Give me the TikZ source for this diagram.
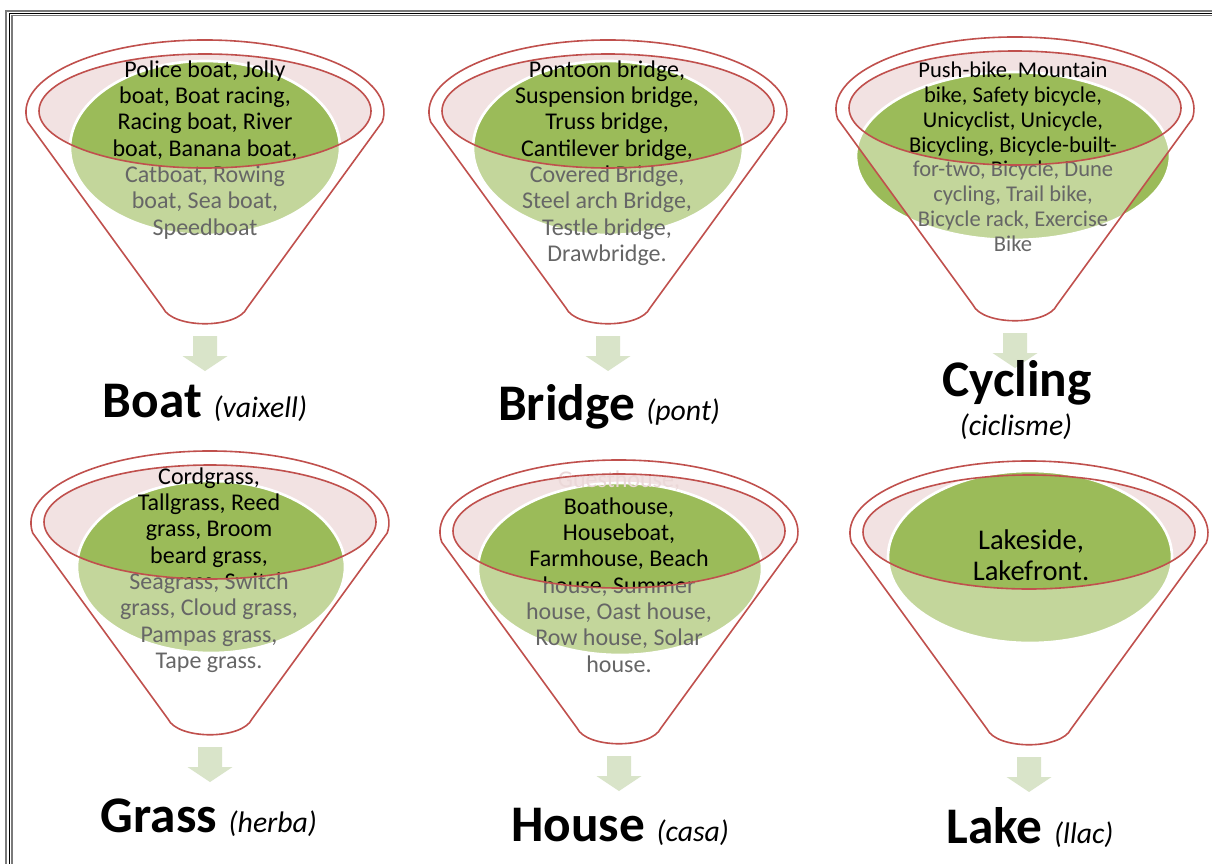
\documentclass[tikz,border=0pt]{standalone}
\usepackage{fontspec}
\setmainfont{Carlito}
\definecolor{fred}{HTML}{C0504D}
\definecolor{fpink}{HTML}{F2E2E2}
\definecolor{fgreen}{HTML}{9BBB59}
\definecolor{farrow}{HTML}{D9E4C9}
\definecolor{ghost}{HTML}{EBD8D8}
\definecolor{framegray}{HTML}{7A7A7A}
\newcommand{\lbltitle}{\fontsize{38.5}{46}\selectfont\bfseries}
\newcommand{\lbltrans}{\fontsize{22.3}{27}\selectfont\itshape}
% #1 cx, #2 cy, #3 green cx, #4 green cy, #5 green rx, #6 green ry
\newcommand{\funnelback}[6]{%
  \fill[white] (#1-177.3,#2+10) arc[start angle=172,end angle=368,x radius=179,y radius=72] -- (#1+42,#2+196) .. controls (#1+32,#2+217) and (#1-32,#2+217) .. (#1-42,#2+196) -- cycle;
  \fill[fpink] (#1,#2-1) ellipse [x radius=166, y radius=57];
  \filldraw[fill=fgreen, draw=white, line width=2pt] (#3,#4) ellipse [x radius=#5, y radius=#6];
}
\newcommand{\funnelfront}[2]{%
  \begin{scope}
    \clip (#1-400,#2-1) -- (#1-166,#2-1) arc[start angle=180,end angle=0,x radius=166,y radius=57] -- (#1+400,#2-1) -- (#1+400,#2+300) -- (#1-400,#2+300) -- cycle;
    \fill[white, fill opacity=0.4] (#1-177.3,#2+10) arc[start angle=172,end angle=368,x radius=179,y radius=72] -- (#1+42,#2+196) .. controls (#1+32,#2+217) and (#1-32,#2+217) .. (#1-42,#2+196) -- cycle;
  \end{scope}
  \draw[fred, line width=1.2pt, line join=round] (#1-177.3,#2+10) arc[start angle=172,end angle=368,x radius=179,y radius=72] -- (#1+42,#2+196) .. controls (#1+32,#2+217) and (#1-32,#2+217) .. (#1-42,#2+196) -- cycle;
  \draw[fred, line width=1.2pt] (#1,#2-1) ellipse [x radius=166, y radius=57];
  \fill[farrow] (#1-12,#2+224) -- (#1+12,#2+224) -- (#1+12,#2+244) -- (#1+22.5,#2+244) -- (#1,#2+259) -- (#1-22.5,#2+244) -- (#1-12,#2+244) -- cycle;
}
\begin{document}
\begin{tikzpicture}[x=0.75pt,y=-0.75pt,
  itemtext/.style={align=center, inner sep=0pt, anchor=north, text=black, font=\fontsize{18}{19.75}\selectfont},
  itemsmall/.style={itemtext, font=\fontsize{16.9}{18.7}\selectfont},
  itemlarge/.style={itemtext, font=\fontsize{21.4}{23.25}\selectfont},
  lbl/.style={anchor=base, inner sep=0pt, text=black}]
\useasboundingbox (0,0) rectangle (1212,863);
\clip (0,0) rectangle (1212,863);
\fill[white] (0,0) rectangle (1212,863);
% frame
\draw[framegray, line width=1.9pt] (6,11) rectangle (1240,890);
\draw[black, line width=1pt] (9.3,13.3) rectangle (1240,890);
\draw[framegray, line width=1.1pt] (12,15.6) rectangle (1240,890);

% Boat
\funnelback{205}{112}{205}{148}{135}{87}
\node[itemtext] (t1) at (205,58.5) {\strut Police boat, Jolly\\boat, Boat racing,\\Racing boat, River\\boat, Banana boat,\\Catboat, Rowing\\boat, Sea boat,\\Speedboat};
\funnelfront{205}{112}
\node[lbl] (l1) at (205,417) {{\lbltitle Boat }{\lbltrans (vaixell)}};

% Bridge
\funnelback{608}{112}{608}{148}{135}{87}
\node[itemtext] (t2) at (607,58.5) {\strut Pontoon bridge,\\Suspension bridge,\\Truss bridge,\\Cantilever bridge,\\Covered Bridge,\\Steel arch Bridge,\\Testle bridge,\\Drawbridge.};
\funnelfront{608}{112}
\node[lbl] (l2) at (609,420) {{\lbltitle Bridge }{\lbltrans (pont)}};

% Cycling
\funnelback{1015}{109}{1013}{156}{157}{84}
\node[itemsmall] (t3) at (1013,59.5) {\strut Push-bike, Mountain\\bike, Safety bicycle,\\Unicyclist, Unicycle,\\Bicycling, Bicycle-built-\\for-two, Bicycle, Dune\\cycling, Trail bike,\\Bicycle rack, Exercise\\Bike};
\funnelfront{1015}{109}
\node[lbl] (l3a) at (1017,396) {\lbltitle Cycling};
\node[lbl] (l3b) at (1016,435) {\lbltrans (ciclisme)};

% Grass
\funnelback{210}{523}{211}{567}{134}{86}
\node[itemtext] (t4) at (209,465.5) {\strut Cordgrass,\\Tallgrass, Reed\\grass, Broom\\beard grass,\\Seagrass, Switch\\grass, Cloud grass,\\Pampas grass,\\Tape grass.};
\funnelfront{210}{523}
\node[lbl] (l4) at (209,832) {{\lbltitle Grass }{\lbltrans (herba)}};

% House
\funnelback{619}{532}{620}{569}{142}{86}
\node[itemtext] (t5) at (619,469) {\strut{\color{ghost}Guesthouse,}\\Boathouse,\\Houseboat,\\Farmhouse, Beach\\house, Summer\\house, Oast house,\\Row house, Solar\\house.};
\funnelfront{619}{532}
\node[lbl] (l5) at (620,841) {{\lbltitle House }{\lbltrans (casa)}};

% Lake
\funnelback{1029}{533}{1030}{557}{142}{86}
\node[itemlarge] (t6) at (1031,527.5) {\strut Lakeside,\\Lakefront.};
\funnelfront{1029}{533}
\node[lbl] (l6) at (1030,843) {{\lbltitle Lake }{\lbltrans (llac)}};
\end{tikzpicture}
\end{document}
